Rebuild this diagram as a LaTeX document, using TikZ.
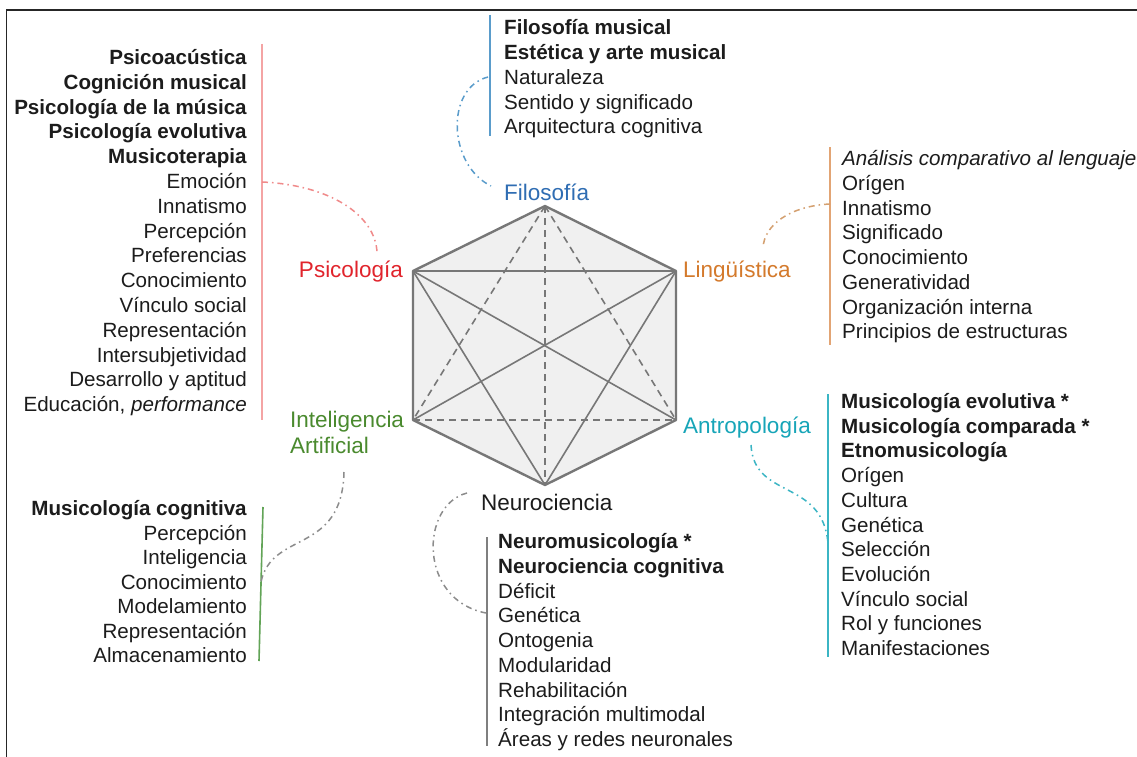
\documentclass[tikz,border=0pt]{standalone}
\usepackage{fontspec}
\setmainfont{Liberation Sans}
\definecolor{txt}{HTML}{1C1C1C}
\definecolor{psired}{HTML}{E1242C}
\definecolor{psibar}{HTML}{F4A4A4}
\definecolor{psicon}{HTML}{F08A8A}
\definecolor{filblue}{HTML}{2F6DB3}
\definecolor{filbar}{HTML}{5A9CCB}
\definecolor{linor}{HTML}{D47A2C}
\definecolor{linbar}{HTML}{E2A474}
\definecolor{lincon}{HTML}{D4A070}
\definecolor{antteal}{HTML}{17A5B8}
\definecolor{antbar}{HTML}{3BB5C4}
\definecolor{iagreen}{HTML}{4A8A2E}
\definecolor{iabar}{HTML}{62A457}
\definecolor{neubar}{HTML}{7F7F7F}
\definecolor{concgray}{HTML}{8C8C8C}
\definecolor{hexgray}{HTML}{777777}
\definecolor{hexfill}{HTML}{F0F0F0}
\begin{document}
\begin{tikzpicture}[x=1pt,y=-1pt,
  item/.style={inner sep=0pt, font=\fontsize{20.6}{24.8}\selectfont, text=txt},
  lab/.style={inner sep=0pt, font=\fontsize{22.5}{26}\selectfont},
  hexedge/.style={draw=hexgray, line width=2.4pt, line join=round},
  hexin/.style={draw=hexgray, line width=1.6pt},
  hexdash/.style={draw=hexgray, line width=1.6pt, dash pattern=on 7pt off 5pt},
  conn/.style={line width=1.5pt, dash pattern=on 6pt off 4pt on 1.5pt off 4pt},
  bar/.style={line width=1.6pt}]

\clip (0,0) rectangle (1137,757);
\fill[white] (0,0) rectangle (1137,757);
\draw[line width=1.8pt, draw=black!85] (6.5,757) -- (6.5,10) -- (1137,10);

% hexagon
\coordinate (T) at (545,206);
\coordinate (UL) at (413,271);
\coordinate (UR) at (676,271);
\coordinate (LL) at (413,420);
\coordinate (LR) at (676,420);
\coordinate (B) at (545,485);
\fill[hexfill] (T) -- (UR) -- (LR) -- (B) -- (LL) -- (UL) -- cycle;
\draw[hexdash] (T) -- (LL);
\draw[hexdash] (T) -- (LR);
\draw[hexdash] (T) -- (B);
\draw[hexdash] (LL) -- (LR);
\draw[hexin] (UL) -- (UR);
\draw[hexin] (UL) -- (LR);
\draw[hexin] (UR) -- (LL);
\draw[hexin] (UL) -- (B);
\draw[hexin] (UR) -- (B);
\draw[hexedge] (T) -- (UR) -- (LR) -- (B) -- (LL) -- (UL) -- cycle;

% labels
\node[lab, text=filblue, anchor=base west] (filo) at (504,200) {Filosofía};
\node[lab, text=psired, anchor=base east] (psico) at (403,277) {Psicología};
\node[lab, text=linor, anchor=base west] (ling) at (683,277) {Lingüística};
\node[lab, text=iagreen, anchor=base west, align=left] (ia) at (290,453) {Inteligencia\\Artificial};
\node[lab, text=antteal, anchor=base west] (antro) at (683,433) {Antropología};
\node[lab, text=txt, anchor=base west] (neuro) at (481,510) {Neurociencia};

% Psicologia list
\foreach \t [count=\i] in {\textbf{Psicoacústica}, \textbf{Cognición musical}, \textbf{Psicología de la música}, \textbf{Psicología evolutiva}, \textbf{Musicoterapia}, Emoción, Innatismo, Percepción, Preferencias, Conocimiento, Vínculo social, Representación, Intersubjetividad, Desarrollo y aptitud, {Educación, \textit{performance}}}
  \node[item, anchor=base east] (psi\i) at (247, 64.5+\i*24.8-24.8) {\t};
\draw[bar, psibar] (262,44) coordinate (psitop) -- (262,420) coordinate (psibot);

% Filosofia list
\foreach \t [count=\i] in {\textbf{Filosofía musical}, \textbf{Estética y arte musical}, Naturaleza, Sentido y significado, Arquitectura cognitiva}
  \node[item, anchor=base west] (fil\i) at (504, 35+\i*24.75-24.75) {\t};
\draw[bar, filbar] (490,15) coordinate (filtop) -- (490,136) coordinate (filbot);

% Linguistica list
\foreach \t [count=\i] in {\textit{Análisis comparativo al lenguaje}, Orígen, Innatismo, Significado, Conocimiento, Generatividad, Organización interna, Principios de estructuras}
  \node[item, anchor=base west] (lin\i) at (842, 165.5+\i*24.75-24.75) {\t};
\draw[bar, linbar] (830,147) coordinate (lintop) -- (830,345) coordinate (linbot);

% Antropologia list
\foreach \t [count=\i] in {\textbf{Musicología evolutiva *}, \textbf{Musicología comparada *}, \textbf{Etnomusicología}, Orígen, Cultura, Genética, Selección, Evolución, Vínculo social, Rol y funciones, Manifestaciones}
  \node[item, anchor=base west] (ant\i) at (841, 408.5+\i*24.7-24.7) {\t};
\draw[bar, antbar] (828,394) coordinate (anttop) -- (828,657) coordinate (antbot);

% IA list
\foreach \t [count=\i] in {\textbf{Musicología cognitiva}, Percepción, Inteligencia, Conocimiento, Modelamiento, Representación, Almacenamiento}
  \node[item, anchor=base east] (iai\i) at (247, 515.5+\i*24.5-24.5) {\t};
\draw[bar, iabar] (263,507) coordinate (iatop) -- (259,661) coordinate (iabot);

% Neurociencia list
\foreach \t [count=\i] in {\textbf{Neuromusicología *}, \textbf{Neurociencia cognitiva}, Déficit, Genética, Ontogenia, Modularidad, Rehabilitación, Integración multimodal, Áreas y redes neuronales}
  \node[item, anchor=base west] (neu\i) at (498, 548.5+\i*24.75-24.75) {\t};
\draw[bar, neubar] (487,537) coordinate (neutop) -- (487,746) coordinate (neubot);

% connectors
\coordinate (fc1) at (488,77);
\coordinate (fc2) at (491,186);
\draw[conn, filbar] (fc1) .. controls (445,88) and (448,165) .. (fc2);

\coordinate (pc1) at (262,182);
\coordinate (pc2) at (377,252);
\draw[conn, psicon] (pc1) .. controls (330,185) and (375,215) .. (pc2);

\coordinate (lc1) at (830,204);
\coordinate (lc2) at (763,248);
\draw[conn, lincon] (lc1) .. controls (790,206) and (764,225) .. (lc2);

\coordinate (ac1) at (751,445);
\coordinate (ac2) at (828,543);
\draw[conn, antbar] (ac1) .. controls (754,500) and (822,478) .. (ac2);

\coordinate (ic1) at (344,472);
\coordinate (ic2) at (261,582);
\draw[conn, concgray] (ic1) .. controls (342,555) and (272,530) .. (ic2);

\coordinate (nc1) at (467,493);
\coordinate (nc2) at (486,613);
\draw[conn, concgray] (nc1) .. controls (420,505) and (418,600) .. (nc2);
\end{tikzpicture}
\end{document}
